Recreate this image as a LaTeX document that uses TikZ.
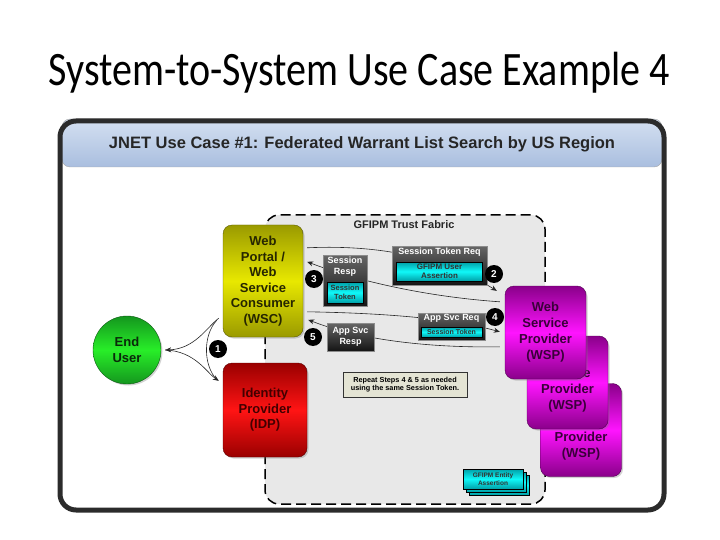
\documentclass[tikz,border=0pt]{standalone}
\usepackage{fontspec}
\setmainfont{Liberation Sans}
\newfontfamily\slidefont{Carlito}
\usepackage{graphicx}
\usetikzlibrary{arrows.meta,calc,positioning,shadows}

\definecolor{wscedge}{HTML}{9A9A00}
\definecolor{wscmid}{HTML}{E8E800}
\definecolor{wsctext}{HTML}{262600}
\definecolor{idpedge}{HTML}{9A0000}
\definecolor{idpmid}{HTML}{FF1414}
\definecolor{idptext}{HTML}{420000}
\definecolor{wspedge}{HTML}{8A008A}
\definecolor{wspmid}{HTML}{FF14FF}
\definecolor{wsptext}{HTML}{3A003A}
\definecolor{euedge}{HTML}{14961E}
\definecolor{eumid}{HTML}{28EE28}
\definecolor{eutext}{HTML}{0A2A0A}
\definecolor{tokedge}{HTML}{00A0A8}
\definecolor{tokmid}{HTML}{10F8F8}
\definecolor{barhi}{HTML}{D4E0F1}
\definecolor{barlo}{HTML}{A9BEDF}
\definecolor{fabric}{HTML}{E8E8E8}
\definecolor{notefill}{HTML}{E4E4D4}
\definecolor{framecol}{HTML}{2B2B2B}
\newcommand{\fsz}[2]{\fontsize{#1}{#2}\selectfont}

\begin{document}
\begin{tikzpicture}[x=1pt, y=-1pt,
  party/.style={draw=#1edge!60!black, rounded corners=9pt, align=center,
    top color=#1edge, bottom color=#1edge, middle color=#1mid, text=#1text,
    font=\bfseries\fsz{13}{15.5}, inner sep=0pt,
    drop shadow={shadow xshift=1.5pt, shadow yshift=-1.5pt, opacity=0.35}},
  wsp/.style={party=wsp, font=\bfseries\fsz{13}{16},
    minimum width=81pt, minimum height=93pt},
  msgbox/.style={draw=black!45, top color=black!60, bottom color=black!92,
    inner sep=0pt,
    drop shadow={shadow xshift=1pt, shadow yshift=-1pt, opacity=0.3}},
  msgtext/.style={text=white, font=\bfseries\fsz{9}{11}, align=center,
    inner sep=1pt},
  token/.style={draw=black, top color=tokedge, bottom color=tokedge,
    middle color=tokmid, text=black!80, font=\bfseries\fsz{7}{8},
    align=center, inner sep=0pt},
  stepdot/.style={circle, fill=black, text=white, font=\bfseries\fsz{10}{10},
    inner sep=0pt, minimum size=18pt},
  flow/.style={black!85, line width=0.6pt, -{Stealth[length=6pt, width=5pt]}}]
  \useasboundingbox (0,0) rectangle (720,540);

  % Slide title
  \node[anchor=base, font=\slidefont\fsz{40}{44}] (title) at (359,86)
    {\scalebox{1}[1.2]{System-to-System Use Case Example 4}};

  % Header bar and frame
  \shade[top color=barhi, bottom color=barlo, draw=black!35, rounded corners=8pt]
    (62,119) -- (62,167) -- (662,167) -- (662,119) -- cycle;
  \node[font=\bfseries\fsz{16.5}{18}, text=black!85] (head) at (362,144)
    {JNET Use Case \#1: Federated Warrant List Search by US Region};
  \draw[framecol, line width=5pt, rounded corners=16pt] (60,121) rectangle (664,510);

  % Trust fabric
  \draw[fill=fabric, line width=1.5pt, dash pattern=on 10pt off 5pt,
    rounded corners=14pt] (265,215) rectangle (545,504);
  \node[font=\bfseries\fsz{11}{13}, text=black!85] (fabriclbl) at (404,225)
    {GFIPM Trust Fabric};

  % Parties
  \node[party=wsc, minimum width=80pt, minimum height=112pt] (wsc) at (263,281)
    {Web\\Portal /\\Web\\Service\\Consumer\\(WSC)};
  \node[party=idp, minimum width=84pt, minimum height=94pt] (idp) at (265,410)
    {Identity\\Provider\\(IDP)};
  \node[party=eu, circle, minimum size=68pt] (eu) at (127,350) {End\\User};
  % stacked providers, hidden lines kept as phantoms
  \node[wsp] (wsp3) at (581,430)
    {\phantom{Web}\\\phantom{Service}\\Provider\\(WSP)};
  \node[wsp] (wsp2) at (567.5,382.5)
    {\phantom{Web}\\\phantom{Servic}e\\Provider\\(WSP)};
  \node[wsp] (wsp1) at (545.5,332.5) {Web\\Service\\Provider\\(WSP)};

  % Step 1: user to portal and IDP
  \draw[flow, {Stealth[length=6pt, width=5pt]}-] ($(eu.east)+(4,0)$)
    .. controls (195,349) and (207,327) .. ($(wsc.south west)+(-4,-19)$);
  \draw[flow] ($(eu.east)+(4,0)$)
    .. controls (195,351) and (207,373) .. ($(idp.north west)+(-4,18)$);
  \draw[black!85, line width=0.6pt] ($(wsc.south west)+(-6,-17)$)
    .. controls (203,335) and (203,365) .. ($(idp.north west)+(-6,17)$);

  % Steps 2-5: messages between WSC and WSP
  \draw[flow] ($(wsc.north east)+(4,23)$)
    .. controls (390,244) and (450,262) .. ($(wsp1.north west)+(-8,5)$);
  \draw[flow] ($(wsp1.north west)+(-5,16)$)
    .. controls (430,297) and (360,282) .. ($(wsc.north east)+(4,37)$);
  \draw[flow] ($(wsc.north east)+(4,87)$)
    .. controls (380,313) and (450,318) .. ($(wsp1.north west)+(-5,46)$);
  \draw[flow] ($(wsp1.north west)+(-5,61)$)
    .. controls (430,348) and (360,340) .. ($(wsc.north east)+(5,95)$);

  % Message boxes
  \node[msgbox, minimum width=95pt, minimum height=39pt] (streq) at (439.5,265.5) {};
  \node[msgtext, below=1pt of streq.north] (streqlbl) {Session Token Req};
  \node[token, minimum width=86pt, minimum height=19pt, above=4pt of streq.south,
    font=\bfseries\fsz{8}{9}] (streqtok) {GFIPM User\\Assertion};
  \node[msgbox, minimum width=44pt, minimum height=51pt] (sresp) at (345,280.5) {};
  \node[msgtext, below=1pt of sresp.north] (sresplbl) {Session\\Resp};
  \node[token, minimum width=36pt, minimum height=21pt, above=3pt of sresp.south,
    font=\bfseries\fsz{7.5}{8.5}] (sresptok) {Session\\Token};
  \node[msgbox, minimum width=67pt, minimum height=27pt] (asreq) at (451.5,326.5) {};
  \node[msgtext, below=0.5pt of asreq.north] (asreqlbl) {App Svc Req};
  \node[token, minimum width=61pt, minimum height=10pt, above=3pt of asreq.south]
    (asreqtok) {Session Token};
  \node[msgbox, msgtext, minimum width=47pt, minimum height=28pt] (asresp)
    at (350.5,337) {App Svc\\Resp};

  % Step numbers
  \node[stepdot] (s1) at (218,349) {1};
  \node[stepdot] (s2) at (494,274) {2};
  \node[stepdot] (s3) at (314,279) {3};
  \node[stepdot] (s4) at (495,317) {4};
  \node[stepdot] (s5) at (313,337) {5};

  % Note and entity assertions
  \node[draw=black!80, fill=notefill, line width=0.8pt, minimum width=124pt,
    minimum height=25pt, align=center, font=\bfseries\fsz{7.3}{8.7},
    drop shadow={shadow xshift=1pt, shadow yshift=-1pt, opacity=0.3}] (note)
    at (405,384.5) {Repeat Steps 4 \& 5 as needed\\using the same Session Token.};
  \node[token, minimum width=60pt, minimum height=20pt] (ent3) at (499,485) {};
  \node[token, minimum width=60pt, minimum height=20pt] (ent2) at (496,482) {};
  \node[token, minimum width=60pt, minimum height=20pt, font=\bfseries\fsz{6.5}{7.5}]
    (ent1) at (493,479) {GFIPM Entity\\Assertion};
\end{tikzpicture}
\end{document}
